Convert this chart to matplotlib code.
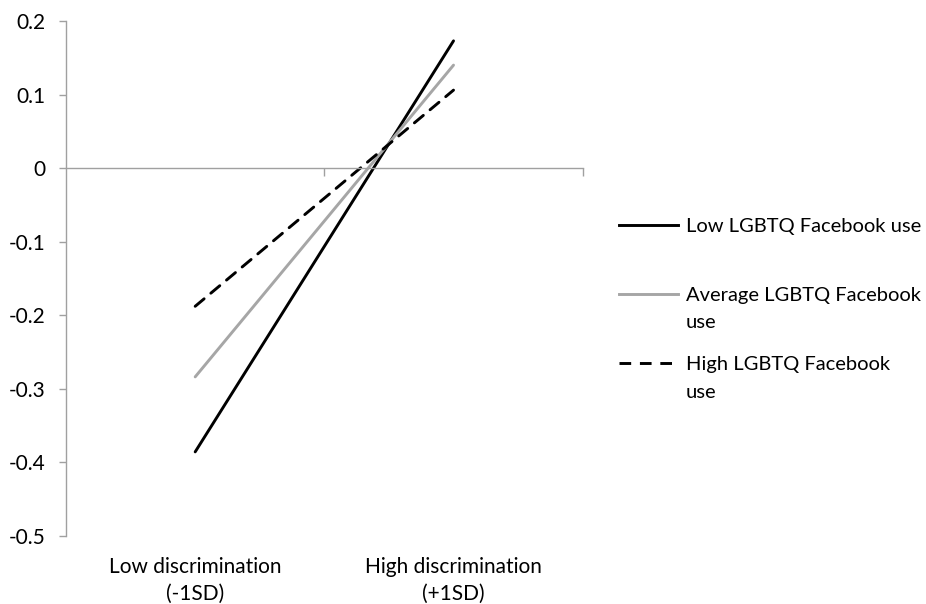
import matplotlib
matplotlib.use("Agg")
import matplotlib.pyplot as plt
from matplotlib.lines import Line2D
from matplotlib.transforms import blended_transform_factory

plt.rcParams['font.family'] = ['Lato', 'DejaVu Sans']

categories = ["Low discrimination\n(-1SD)", "High discrimination\n(+1SD)"]
series_names = ["Low LGBTQ Facebook use", "Average LGBTQ Facebook\nuse", "High LGBTQ Facebook\nuse"]
low_use = [-0.386, 0.173]
avg_use = [-0.284, 0.140]
high_use = [-0.188, 0.106]
yticks = [-0.5, -0.4, -0.3, -0.2, -0.1, 0, 0.1, 0.2]
ytick_labels = ["-0.5", "-0.4", "-0.3", "-0.2", "-0.1", "0", "0.1", "0.2"]

W, H = 926, 604
fig = plt.figure(figsize=(W / 100, H / 100), dpi=100)
ax = fig.add_axes([66 / W, 1 - 535.7 / H, (582.7 - 66) / W, (535.7 - 21) / H])

xs = list(range(len(categories)))
styles = [
    dict(color="black", lw=2.1, ls="-"),
    dict(color="#A6A6A6", lw=2.1, ls="-"),
    dict(color="black", lw=2.1, ls=(0, (4, 3))),
]
for vals, st in zip([low_use, avg_use, high_use], styles):
    ax.plot(xs, vals, color=st["color"], lw=st["lw"], ls=st["ls"],
            solid_capstyle="round", dash_capstyle="round")

ax.set_xlim(-0.5, len(categories) - 0.5)
ax.set_ylim(-0.5, 0.2)

axis_col = "#A0A0A0"
for s in ["top", "right"]:
    ax.spines[s].set_visible(False)
ax.spines["left"].set_color(axis_col)
ax.spines["left"].set_linewidth(1.0)
ax.spines["bottom"].set_position(("data", 0))
ax.spines["bottom"].set_color(axis_col)
ax.spines["bottom"].set_linewidth(1.0)

ax.set_yticks(yticks)
ax.set_yticklabels(ytick_labels, fontsize=15)
ax.tick_params(axis="y", direction="out", length=5, width=1.0, color=axis_col, pad=10)

bounds = [i + 0.5 for i in range(len(categories))]
ax.set_xticks(bounds)
ax.set_xticklabels([""] * len(bounds))
ax.tick_params(axis="x", direction="out", length=6, width=1.0, color=axis_col)

trans = blended_transform_factory(ax.transData, ax.transAxes)
for x, lab in zip(xs, categories):
    ax.annotate(lab, xy=(x, 0), xycoords=trans, xytext=(0, -15), textcoords="offset points",
                ha="center", va="top", fontsize=15, linespacing=1.45)

# legend
leg_y = [225, 294, 363]
for name, st, y in zip(series_names, styles, leg_y):
    fy = 1 - y / H
    fig.add_artist(Line2D([619 / W, 678 / W], [fy, fy], transform=fig.transFigure,
                          color=st["color"], lw=st["lw"], ls=st["ls"]))
    fig.text(686 / W, 1 - (y - 7) / H, name, ha="left", va="top", fontsize=14.5,
             linespacing=1.75, transform=fig.transFigure)

fig.savefig("out.png", dpi=100)
